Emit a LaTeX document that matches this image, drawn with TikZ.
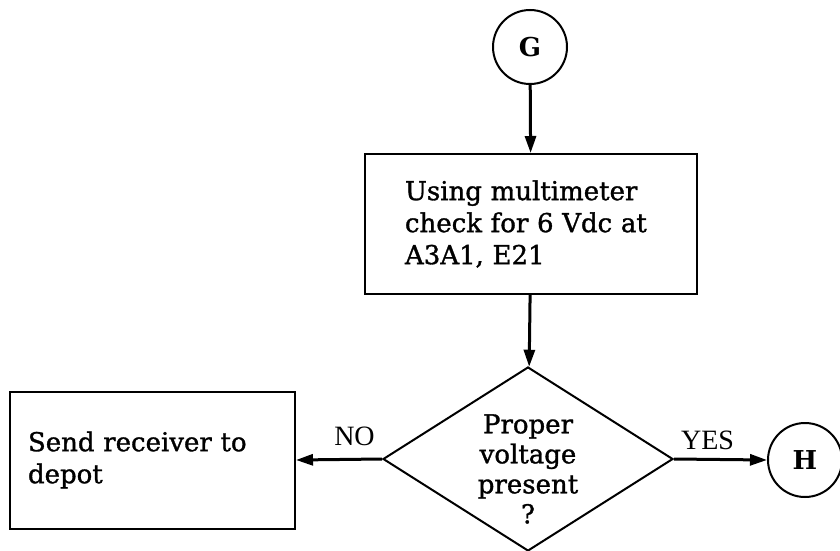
\documentclass[tikz,border=0pt]{standalone}
\usepackage{fontspec}
\setmainfont{DejaVu Serif}[UprightFeatures={FakeBold=1.2}]
\newfontfamily\lblfont{Liberation Serif}
\usetikzlibrary{arrows.meta,shapes.geometric}
\begin{document}
\begin{tikzpicture}[x=1pt,y=-1pt,
  every node/.style={font=\fontsize{26}{32}\selectfont},
  shapeline/.style={draw=black,line width=2pt},
  conn/.style={line width=3pt,-{Triangle[length=17pt,width=11pt]}},
  boxstep/.style={shapeline,rectangle,align=left,anchor=center},
  connector/.style={shapeline,circle,minimum size=74pt,inner sep=0pt,font=\fontsize{26}{30}\selectfont\bfseries},
  decision/.style={shapeline,diamond,minimum width=290pt,minimum height=184pt,inner sep=0pt},
  lbl/.style={inner sep=0pt,font=\fontsize{28}{30}\selectfont\lblfont}]
\useasboundingbox (0,0) rectangle (840,551);
\fill[white] (0,0) rectangle (840,551);
\node[connector] (G) at (530,47) {G};
\node[boxstep,minimum width=332pt,minimum height=140pt,text width=252pt,inner xsep=40pt] (check) at (531,224)
  {Using multimeter\\check for 6 Vdc at\\A3A1, E21};
\node[decision] (dia) at (528,459) {};
\node[inner sep=0pt,align=center,font=\fontsize{26}{30}\selectfont] (q) at (528,469) {Proper\\voltage\\present\\?};
\node[boxstep,minimum width=285pt,minimum height=137pt,text width=249pt,inner xsep=18pt] (send) at (152.5,460)
  {Send receiver to\\depot\\[0pt]};
\node[connector] (H) at (805,460) {H};
\draw[conn] (G) -- (check);
\draw[conn] (check) -- (dia);
\draw[conn] (dia.west) -- (send.east) node[lbl,pos=0.32,above=12pt] (no) {NO};
\draw[conn] (dia.east) -- (H.west) node[lbl,pos=0.36,above=8pt] (yes) {YES};
\end{tikzpicture}
\end{document}
